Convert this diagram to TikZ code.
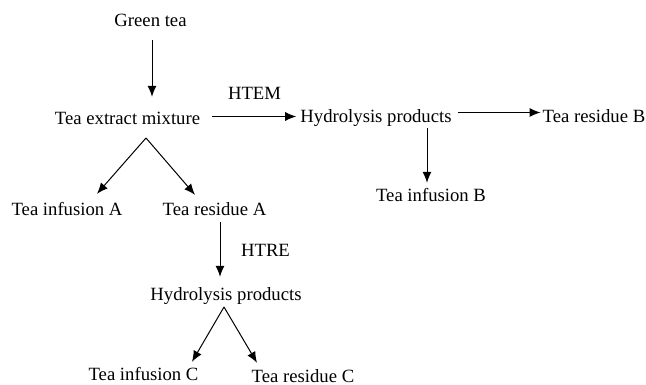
\documentclass[tikz,border=0pt]{standalone}
\usepackage{fontspec}
\setmainfont{Liberation Serif}
\usetikzlibrary{arrows.meta}
\begin{document}
\begin{tikzpicture}[x=1pt,y=-1pt,
  lab/.style={anchor=base,inner sep=0pt,text height=13pt,text depth=4pt,font=\fontsize{18.7}{20}\selectfont},
  arr/.style={line width=1pt,-{Latex[length=11pt,width=9pt]}}]
\useasboundingbox (0,0) rectangle (646,385);
\node[lab] (gt) at (150.5,27) {Green tea};
\node[lab] (tem) at (127.5,125) {Tea extract mixture};
\node[lab] (htem) at (254.5,100) {HTEM};
\node[lab] (hp1) at (376,123) {Hydrolysis products};
\node[lab] (trb) at (594,123) {Tea residue B};
\node[lab] (tib) at (431,202) {Tea infusion B};
\node[lab] (tia) at (67,216) {Tea infusion A};
\node[lab] (tra) at (214.5,216) {Tea residue A};
\node[lab] (htre) at (265.5,256) {HTRE};
\node[lab] (hp2) at (226,301) {Hydrolysis products};
\node[lab] (tic) at (143.5,380) {Tea infusion C};
\node[lab] (trc) at (303,382) {Tea residue C};
\coordinate (s1) at (146,138);
\coordinate (s2) at (224,307);
% connectors
\draw[arr,shorten <=9pt,shorten >=15pt] ([xshift=1.5pt]gt.south) -- ([xshift=1.5pt]gt.south |- tem.north);
\draw[arr,shorten <=12pt,shorten >=4pt] ([yshift=4pt]tem.east) -- ([yshift=4pt]tem.east -| hp1.west);
\draw[arr,shorten <=6pt,shorten >=2pt] ([yshift=6pt]hp1.east) -- ([yshift=6pt]hp1.east -| trb.west);
\draw[arr,shorten <=1pt,shorten >=6pt] ([xshift=-4pt]tib.north |- hp1.south) -- ([xshift=-4pt]tib.north);
\draw[arr] (s1) -- ([xshift=30pt,yshift=9pt]tia.north);
\draw[arr] (s1) -- ([xshift=-19.5pt,yshift=8pt]tra.north);
\draw[arr,shorten <=2pt,shorten >=11pt] ([xshift=5.5pt]tra.south) -- ([xshift=5.5pt]tra.south |- hp2.north);
\draw[arr] (s2) -- ([xshift=48.5pt,yshift=5pt]tic.north);
\draw[arr] (s2) -- ([xshift=-46pt,yshift=6pt]trc.north);
\end{tikzpicture}
\end{document}
